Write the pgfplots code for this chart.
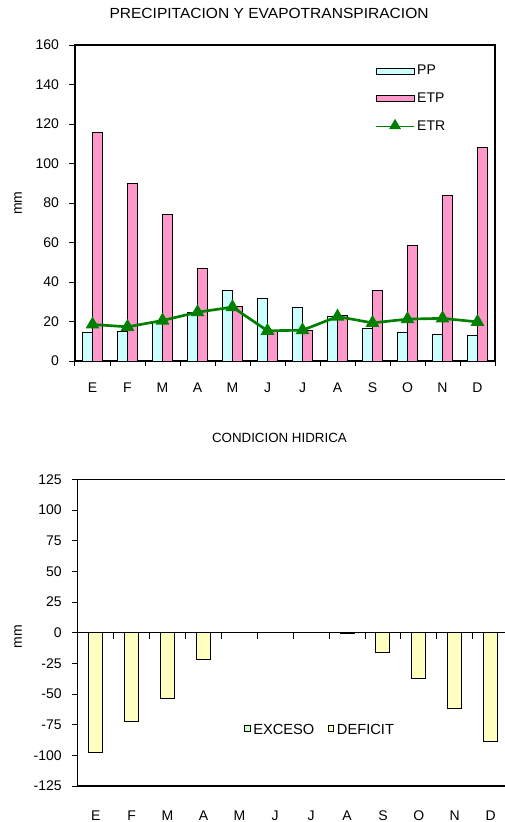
\documentclass[border=0pt]{standalone}
\usepackage{fontspec}
\setmainfont{Liberation Sans}
\usepackage{pgfplots}
\pgfplotsset{compat=1.18}
\definecolor{ppc}{HTML}{CCFFFF}
\definecolor{etpc}{HTML}{FF99CC}
\definecolor{etrc}{HTML}{008000}
\definecolor{defc}{HTML}{FFFFC0}
\definecolor{exc}{HTML}{CCFFCC}
\newcommand{\fs}{\fontsize{10.5}{12}\selectfont}
\begin{document}
\begin{tikzpicture}
\path[use as bounding box] (0pt,0pt) rectangle (378pt,-616.5pt);
% ---------------- top chart
\begin{axis}[
  at={(56.25pt,-270.75pt)}, anchor=south west,
  scale only axis, width=315pt, height=237pt,
  xmin=-0.5, xmax=11.5, ymin=0, ymax=160,
  ytick={0,20,...,160},
  xtick={0,...,11}, xticklabels={E,F,M,A,M,J,J,A,S,O,N,D},
  minor xtick={-0.5,0.5,...,11.5},
  major x tick style={draw=none},
  minor tick length=3.75pt, major tick length=4.5pt,
  tick align=outside, xtick pos=left, ytick pos=left,
  axis line style={line width=1pt}, tick style={line width=0.75pt, black},
  /pgf/number format/assume math mode=true,
  tick label style={font=\fs},
  xticklabel style={yshift=-8.5pt},
  yticklabel style={xshift=-4pt},
  ylabel={mm}, ylabel style={font=\fs, at={(axis description cs:0,0.5)}, anchor=center, yshift=42.75pt},
  title={\scalebox{1.06}[1]{PRECIPITACION Y EVAPOTRANSPIRACION}},
  title style={font=\fontsize{11}{13}\selectfont, at={(axis description cs:0.462,1)}, anchor=center, yshift=17.5pt},
  legend style={at={(axis description cs:0.715,0.945)}, anchor=north west, draw=none, fill=none,
    font=\fs, row sep=8pt, inner sep=0pt},
  legend cell align=left,
]
\addplot[ybar, bar width=7.5pt, bar shift=-3.75pt, fill=ppc, draw=black, line width=0.75pt,
  legend image code/.code={\draw[fill=ppc, draw=black, line width=0.75pt] (0pt,-2.25pt) rectangle (28.5pt,2.25pt);}]
  coordinates {(0,14.2) (1,15.1) (2,19.8) (3,24.6) (4,35.8) (5,31.4) (6,27.0) (7,22.7) (8,16.4) (9,14.2) (10,13.6) (11,12.9)};
\addlegendentry{PP}
\addplot[ybar, bar width=7.5pt, bar shift=3.75pt, fill=etpc, draw=black, line width=0.75pt,
  legend image code/.code={\draw[fill=etpc, draw=black, line width=0.75pt] (0pt,-2.25pt) rectangle (28.5pt,2.25pt);}]
  coordinates {(0,115.8) (1,89.8) (2,74.0) (3,46.8) (4,27.6) (5,15.3) (6,15.6) (7,23.0) (8,35.8) (9,58.5) (10,83.7) (11,108.3)};
\addlegendentry{ETP}
\addplot[etrc, line width=2pt, mark=triangle*, mark size=4pt, mark options={solid},
  legend image code/.code={\draw[etrc, line width=0.75pt] (0pt,0pt) -- (28.5pt,0pt);
    \fill[etrc] (14.25pt,0.5pt) +(90:3.2pt) -- +(210:3.2pt) -- +(330:3.2pt) -- cycle;}]
  coordinates {(0,18.5) (1,17.3) (2,20.5) (3,24.7) (4,27.3) (5,15.3) (6,15.6) (7,22.5) (8,19.3) (9,21.2) (10,21.6) (11,19.8)};
\addlegendentry{ETR}
\end{axis}
% ---------------- bottom chart
\begin{axis}[
  at={(58.3pt,-589.5pt)}, anchor=south west,
  scale only axis, width=323.2pt, height=230pt,
  xmin=-0.5, xmax=11.5, ymin=-125, ymax=125,
  ytick={-125,-100,...,125},
  xtick={0,...,11}, xticklabels={E,F,M,A,M,J,J,A,S,O,N,D},
  major x tick style={draw=none},
  major tick length=4.5pt,
  tick align=outside, xtick pos=left, ytick pos=left,
  axis line style={line width=1pt}, tick style={line width=0.75pt, black},
  /pgf/number format/assume math mode=true,
  tick label style={font=\fs},
  xticklabel style={yshift=-10.5pt},
  yticklabel style={xshift=-4pt},
  ylabel={mm}, ylabel style={font=\fs, at={(axis description cs:0,0.486)}, anchor=center, yshift=44.8pt},
  title={CONDICION HIDRICA},
  title style={font=\fontsize{10}{12}\selectfont, at={(axis description cs:0.468,1)}, anchor=center, yshift=24.75pt},
  legend style={at={(axis description cs:0.563,0.183)}, anchor=center, draw=none, fill=none,
    font=\fontsize{11}{13}\selectfont, inner sep=0pt, /tikz/every even column/.append style={column sep=8pt}},
  legend columns=2,
]
\addlegendimage{legend image code/.code={\draw[fill=exc, draw=black, line width=0.6pt] (0pt,-1.3pt) rectangle (4.3pt,3.5pt);}}
\addlegendentry{EXCESO}
\addplot[ybar, bar width=10.5pt, bar shift=0pt, fill=defc, draw=black, line width=0.75pt,
  legend image code/.code={\draw[fill=defc, draw=black, line width=0.6pt] (0pt,-1.3pt) rectangle (4.3pt,3.5pt);}]
  coordinates {(0,-97.3) (1,-72.5) (2,-53.5) (3,-22.1) (4,0) (5,0) (6,0) (7,-0.8) (8,-16.5) (9,-37.3) (10,-62.1) (11,-88.5)};
\addlegendentry{DEFICIT}
\draw[line width=1pt] (axis cs:-0.5,0) -- (axis cs:11.5,0);
\pgfplotsinvokeforeach{0.5,1.5,2.5,3.5,4.5,5.5,6.5,7.5,8.5,9.5,10.5,11.5}{\draw[line width=0.75pt] (axis cs:#1,0) -- ++(0pt,-4.5pt);}
\end{axis}
\end{tikzpicture}
\end{document}
